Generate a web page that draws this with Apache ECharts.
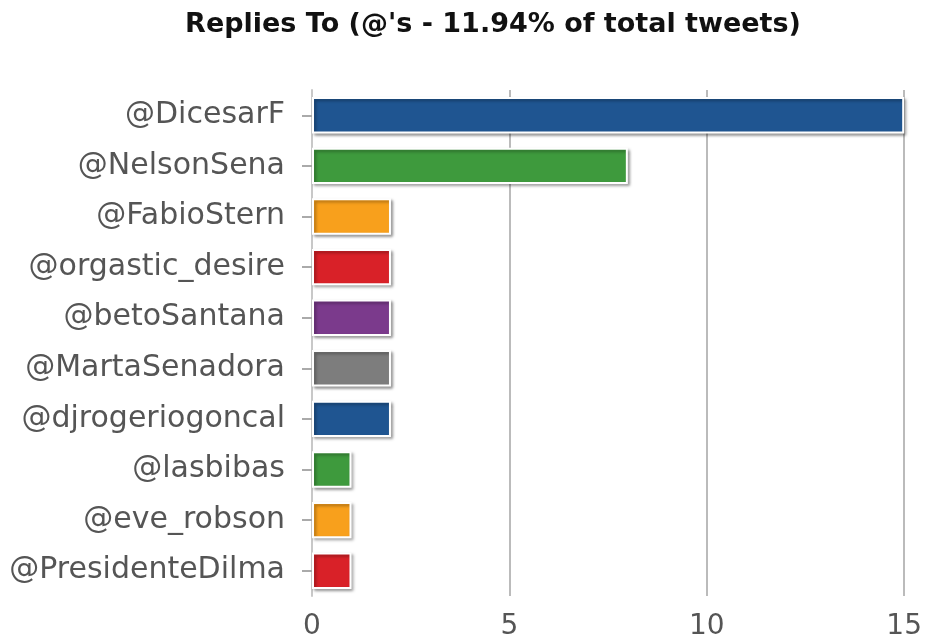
<!DOCTYPE html>
<html><head><meta charset="utf-8">
<script src="https://cdn.jsdelivr.net/npm/echarts@6/dist/echarts.min.js"></script>
<style>html,body{margin:0;padding:0;background:#fff}#c{width:925px;height:641px}</style>
</head><body><div id="c"></div>
<script>
const categories = ['@DicesarF','@NelsonSena','@FabioStern','@orgastic_desire','@betoSantana','@MartaSenadora','@djrogeriogoncal','@lasbibas','@eve_robson','@PresidenteDilma'];
const values = [15, 8, 2, 2, 2, 2, 2, 1, 1, 1];
const barColors = ['#1f5591','#3e9a3d','#f8a01c','#d92128','#7b3a8c','#7d7d7d','#1f5591','#3e9a3d','#f8a01c','#d92128'];
const titleText = "Replies To (@'s - 11.94% of total tweets)";

const chart = echarts.init(document.getElementById('c'));
chart.setOption({
  animation: false,
  title: { text: titleText, left: 488, textAlign: 'center', top: 6,
    textStyle: { fontFamily: 'DejaVu Sans', fontWeight: 'bold', fontSize: 27, color: '#111' } },
  grid: { left: 312, right: 20, top: 90, bottom: 43 },
  xAxis: { type: 'value', min: 0, max: 15, interval: 5,
    axisLine: { show: false }, axisTick: { show: false },
    axisLabel: { fontFamily: 'DejaVu Sans', fontSize: 28, color: '#555', margin: 17 },
    splitLine: { lineStyle: { color: '#bbb', width: 2 } } },
  yAxis: { type: 'category', data: categories, inverse: true,
    axisLine: { show: true, lineStyle: { color: '#c8c8c8', width: 2 } },
    axisTick: { show: true, alignWithLabel: true, length: 10, lineStyle: { color: '#aaa', width: 2 } },
    axisLabel: { fontFamily: 'DejaVu Sans', fontSize: 30, color: '#555', margin: 27 } },
  series: [{ type: 'bar', data: values.map((v, i) => ({ value: v, itemStyle: { color: barColors[i] } })),
    barCategoryGap: '28%',
    itemStyle: { borderColor: '#fff', borderWidth: 2, shadowColor: 'rgba(0,0,0,0.35)', shadowBlur: 3, shadowOffsetX: 2, shadowOffsetY: 2 } }]
});
</script></body></html>
